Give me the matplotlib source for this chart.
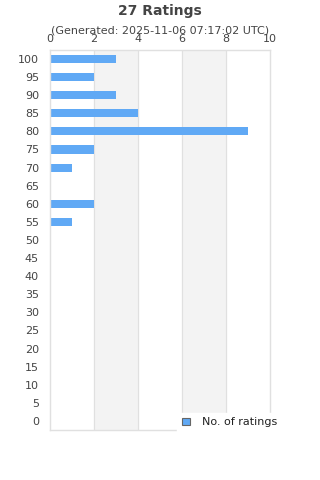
import numpy as np
import matplotlib.pyplot as plt
from matplotlib.patches import Patch

# ratings and counts
ratings = [100, 95, 90, 85, 80, 75, 70, 65, 60, 55, 50, 45, 40, 35, 30, 25, 20, 15, 10, 5, 0]
counts = [3, 2, 3, 4, 9, 2, 1, 0, 2, 1, 0, 0, 0, 0, 0, 0, 0, 0, 0, 0, 0]
x_ticks = [0, 2, 4, 6, 8, 10]

bar_color = '#60a9f5'
text_color = '#444444'
grid_color = '#e0e0e0'

fig = plt.figure(figsize=(3.2, 4.8), dpi=100)
ax = fig.add_axes([0.15625, 0.1042, 0.6875, 0.7917])

ypos = np.arange(len(ratings))[::-1]
# alternating bands
for i in range(1, len(x_ticks) - 1, 2):
    ax.axvspan(x_ticks[i], x_ticks[i + 1], color='#f3f3f3', zorder=0)
for xt in x_ticks[1:-1]:
    ax.axvline(xt, color=grid_color, lw=0.8, zorder=1)

ax.barh(ypos, counts, height=0.45, color=bar_color, zorder=2)

ax.set_xlim(0, 10)
ax.set_ylim(-0.5, len(ratings) - 0.5)
ax.xaxis.tick_top()
ax.set_xticks(x_ticks)
ax.set_yticks(ypos)
ax.set_yticklabels([str(r) for r in ratings])
ax.tick_params(axis='both', length=0, colors=text_color, labelsize=8)
ax.tick_params(axis='x', pad=4.5)
ax.tick_params(axis='y', pad=8)
for s in ax.spines.values():
    s.set_color(grid_color)
    s.set_linewidth(1)

fig.text(0.5, 0.977, '27 Ratings', ha='center', va='center', fontsize=10,
         fontweight='bold', color=text_color)
fig.text(0.5, 0.937, '(Generated: 2025-11-06 07:17:02 UTC)', ha='center',
         va='center', fontsize=8, color=text_color)

leg = fig.legend(handles=[Patch(facecolor=bar_color, edgecolor='#666666', lw=0.8)],
                 labels=['No. of ratings'], loc='center left',
                 bbox_to_anchor=(0.537, 0.12), frameon=True, fontsize=8,
                 handlelength=0.7, handleheight=0.7, handletextpad=1.1,
                 borderpad=0.4)
leg.get_frame().set_edgecolor('white')
leg.get_frame().set_facecolor('white')
leg.get_frame().set_alpha(1)
leg.get_frame().set_boxstyle('square', pad=0)
for t in leg.get_texts():
    t.set_color('#222222')

fig.savefig('out.png')
